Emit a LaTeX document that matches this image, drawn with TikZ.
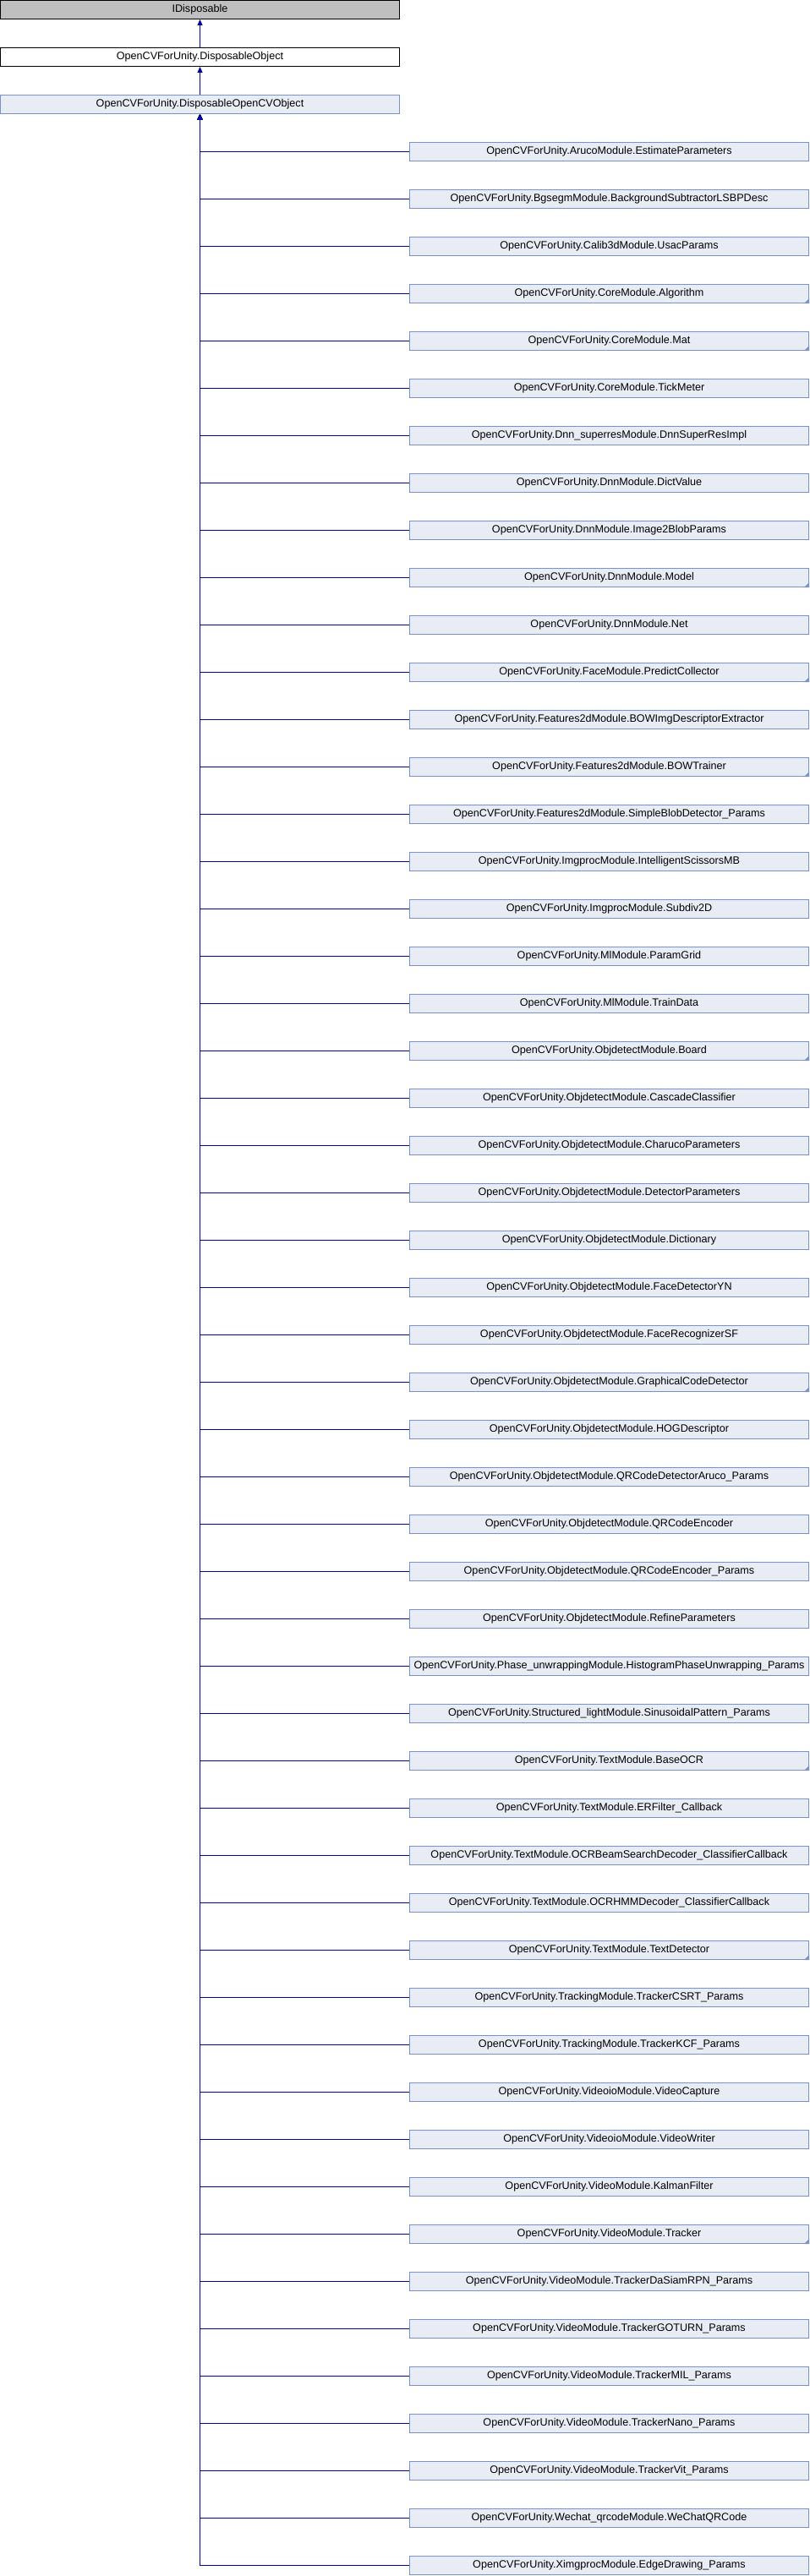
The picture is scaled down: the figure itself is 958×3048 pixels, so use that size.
\documentclass[tikz,border=0pt]{standalone}
\usepackage{fontspec}
\setmainfont{Liberation Sans}
\usepackage{tikz}
\usetikzlibrary{arrows.meta}

\definecolor{clsfill}{RGB}{232,236,244}
\definecolor{clsdraw}{RGB}{122,146,204}
\definecolor{extfill}{RGB}{191,191,191}
\definecolor{edgecol}{RGB}{0,0,150}

\tikzset{
	cls/.style={draw=clsdraw, fill=clsfill, line width=1pt, inner sep=0pt,
		minimum width=472pt, minimum height=22pt,
		font=\fontsize{12.6}{14}\selectfont},
	extcls/.style={cls, draw=black, fill=extfill},
	plaincls/.style={cls, draw=black, fill=white},
	edge/.style={draw=edgecol, line width=1pt, -{Triangle[width=6pt,length=7pt]}},
	more/.style={fill=clsdraw}
}

\begin{document}
\begin{tikzpicture}[x=1pt, y=-1pt]
	\useasboundingbox (0,0) rectangle (958,3048);
	% base classes
	\node[extcls] (idisp) at (236.5,11.5) {IDisposable};
	\node[plaincls] (dobj) at (236.5,67.5) {OpenCVForUnity.DisposableObject};
	\node[cls] (docv) at (236.5,123.5) {OpenCVForUnity.DisposableOpenCVObject};
	\draw[edge] (dobj.north) -- (idisp.south);
	\draw[edge] (docv.north) -- (dobj.south);
	% derived classes
	\node[cls] (estparams) at (720.5,179.5) {OpenCVForUnity.ArucoModule.EstimateParameters};
	\node[cls] (lsbpdesc) at (720.5,235.5) {OpenCVForUnity.BgsegmModule.BackgroundSubtractorLSBPDesc};
	\node[cls] (usac) at (720.5,291.5) {OpenCVForUnity.Calib3dModule.UsacParams};
	\node[cls] (algorithm) at (720.5,347.5) {OpenCVForUnity.CoreModule.Algorithm};
	\node[cls] (mat) at (720.5,403.5) {OpenCVForUnity.CoreModule.Mat};
	\node[cls] (tickmeter) at (720.5,459.5) {OpenCVForUnity.CoreModule.TickMeter};
	\node[cls] (superres) at (720.5,515.5) {OpenCVForUnity.Dnn\_superresModule.DnnSuperResImpl};
	\node[cls] (dictvalue) at (720.5,571.5) {OpenCVForUnity.DnnModule.DictValue};
	\node[cls] (blobparams) at (720.5,627.5) {OpenCVForUnity.DnnModule.Image2BlobParams};
	\node[cls] (model) at (720.5,683.5) {OpenCVForUnity.DnnModule.Model};
	\node[cls] (net) at (720.5,739.5) {OpenCVForUnity.DnnModule.Net};
	\node[cls] (predcoll) at (720.5,795.5) {OpenCVForUnity.FaceModule.PredictCollector};
	\node[cls] (bowextr) at (720.5,851.5) {OpenCVForUnity.Features2dModule.BOWImgDescriptorExtractor};
	\node[cls] (bowtrainer) at (720.5,907.5) {OpenCVForUnity.Features2dModule.BOWTrainer};
	\node[cls] (blobdet) at (720.5,963.5) {OpenCVForUnity.Features2dModule.SimpleBlobDetector\_Params};
	\node[cls] (scissors) at (720.5,1019.5) {OpenCVForUnity.ImgprocModule.IntelligentScissorsMB};
	\node[cls] (subdiv) at (720.5,1075.5) {OpenCVForUnity.ImgprocModule.Subdiv2D};
	\node[cls] (paramgrid) at (720.5,1131.5) {OpenCVForUnity.MlModule.ParamGrid};
	\node[cls] (traindata) at (720.5,1187.5) {OpenCVForUnity.MlModule.TrainData};
	\node[cls] (board) at (720.5,1243.5) {OpenCVForUnity.ObjdetectModule.Board};
	\node[cls] (cascade) at (720.5,1299.5) {OpenCVForUnity.ObjdetectModule.CascadeClassifier};
	\node[cls] (charuco) at (720.5,1355.5) {OpenCVForUnity.ObjdetectModule.CharucoParameters};
	\node[cls] (detparams) at (720.5,1411.5) {OpenCVForUnity.ObjdetectModule.DetectorParameters};
	\node[cls] (dictionary) at (720.5,1467.5) {OpenCVForUnity.ObjdetectModule.Dictionary};
	\node[cls] (facedet) at (720.5,1523.5) {OpenCVForUnity.ObjdetectModule.FaceDetectorYN};
	\node[cls] (facerec) at (720.5,1579.5) {OpenCVForUnity.ObjdetectModule.FaceRecognizerSF};
	\node[cls] (gcodedet) at (720.5,1635.5) {OpenCVForUnity.ObjdetectModule.GraphicalCodeDetector};
	\node[cls] (hog) at (720.5,1691.5) {OpenCVForUnity.ObjdetectModule.HOGDescriptor};
	\node[cls] (qraruco) at (720.5,1747.5) {OpenCVForUnity.ObjdetectModule.QRCodeDetectorAruco\_Params};
	\node[cls] (qrenc) at (720.5,1803.5) {OpenCVForUnity.ObjdetectModule.QRCodeEncoder};
	\node[cls] (qrencparams) at (720.5,1859.5) {OpenCVForUnity.ObjdetectModule.QRCodeEncoder\_Params};
	\node[cls] (refine) at (720.5,1915.5) {OpenCVForUnity.ObjdetectModule.RefineParameters};
	\node[cls] (phaseunwrap) at (720.5,1971.5) {OpenCVForUnity.Phase\_unwrappingModule.HistogramPhaseUnwrapping\_Params};
	\node[cls] (sinpattern) at (720.5,2027.5) {OpenCVForUnity.Structured\_lightModule.SinusoidalPattern\_Params};
	\node[cls] (baseocr) at (720.5,2083.5) {OpenCVForUnity.TextModule.BaseOCR};
	\node[cls] (erfilter) at (720.5,2139.5) {OpenCVForUnity.TextModule.ERFilter\_Callback};
	\node[cls] (beamsearch) at (720.5,2195.5) {OpenCVForUnity.TextModule.OCRBeamSearchDecoder\_ClassifierCallback};
	\node[cls] (ocrhmm) at (720.5,2251.5) {OpenCVForUnity.TextModule.OCRHMMDecoder\_ClassifierCallback};
	\node[cls] (textdet) at (720.5,2307.5) {OpenCVForUnity.TextModule.TextDetector};
	\node[cls] (csrt) at (720.5,2363.5) {OpenCVForUnity.TrackingModule.TrackerCSRT\_Params};
	\node[cls] (kcf) at (720.5,2419.5) {OpenCVForUnity.TrackingModule.TrackerKCF\_Params};
	\node[cls] (videocap) at (720.5,2475.5) {OpenCVForUnity.VideoioModule.VideoCapture};
	\node[cls] (videowriter) at (720.5,2531.5) {OpenCVForUnity.VideoioModule.VideoWriter};
	\node[cls] (kalman) at (720.5,2587.5) {OpenCVForUnity.VideoModule.KalmanFilter};
	\node[cls] (tracker) at (720.5,2643.5) {OpenCVForUnity.VideoModule.Tracker};
	\node[cls] (dasiamrpn) at (720.5,2699.5) {OpenCVForUnity.VideoModule.TrackerDaSiamRPN\_Params};
	\node[cls] (goturn) at (720.5,2755.5) {OpenCVForUnity.VideoModule.TrackerGOTURN\_Params};
	\node[cls] (mil) at (720.5,2811.5) {OpenCVForUnity.VideoModule.TrackerMIL\_Params};
	\node[cls] (nano) at (720.5,2867.5) {OpenCVForUnity.VideoModule.TrackerNano\_Params};
	\node[cls] (vit) at (720.5,2923.5) {OpenCVForUnity.VideoModule.TrackerVit\_Params};
	\node[cls] (wechat) at (720.5,2979.5) {OpenCVForUnity.Wechat\_qrcodeModule.WeChatQRCode};
	\node[cls] (edgedraw) at (720.5,3035.5) {OpenCVForUnity.XimgprocModule.EdgeDrawing\_Params};
	% corner marks for classes with hidden subclasses
	\fill[more] (algorithm.south east) -- ++(-6,0) -- ++(6,-6) -- cycle;
	\fill[more] (mat.south east) -- ++(-6,0) -- ++(6,-6) -- cycle;
	\fill[more] (model.south east) -- ++(-6,0) -- ++(6,-6) -- cycle;
	\fill[more] (predcoll.south east) -- ++(-6,0) -- ++(6,-6) -- cycle;
	\fill[more] (bowtrainer.south east) -- ++(-6,0) -- ++(6,-6) -- cycle;
	\fill[more] (board.south east) -- ++(-6,0) -- ++(6,-6) -- cycle;
	\fill[more] (gcodedet.south east) -- ++(-6,0) -- ++(6,-6) -- cycle;
	\fill[more] (baseocr.south east) -- ++(-6,0) -- ++(6,-6) -- cycle;
	\fill[more] (textdet.south east) -- ++(-6,0) -- ++(6,-6) -- cycle;
	\fill[more] (tracker.south east) -- ++(-6,0) -- ++(6,-6) -- cycle;
	% inheritance edges
	\draw[edge] (estparams.west) -| (docv.south);
	\draw[edge] (lsbpdesc.west) -| (docv.south);
	\draw[edge] (usac.west) -| (docv.south);
	\draw[edge] (algorithm.west) -| (docv.south);
	\draw[edge] (mat.west) -| (docv.south);
	\draw[edge] (tickmeter.west) -| (docv.south);
	\draw[edge] (superres.west) -| (docv.south);
	\draw[edge] (dictvalue.west) -| (docv.south);
	\draw[edge] (blobparams.west) -| (docv.south);
	\draw[edge] (model.west) -| (docv.south);
	\draw[edge] (net.west) -| (docv.south);
	\draw[edge] (predcoll.west) -| (docv.south);
	\draw[edge] (bowextr.west) -| (docv.south);
	\draw[edge] (bowtrainer.west) -| (docv.south);
	\draw[edge] (blobdet.west) -| (docv.south);
	\draw[edge] (scissors.west) -| (docv.south);
	\draw[edge] (subdiv.west) -| (docv.south);
	\draw[edge] (paramgrid.west) -| (docv.south);
	\draw[edge] (traindata.west) -| (docv.south);
	\draw[edge] (board.west) -| (docv.south);
	\draw[edge] (cascade.west) -| (docv.south);
	\draw[edge] (charuco.west) -| (docv.south);
	\draw[edge] (detparams.west) -| (docv.south);
	\draw[edge] (dictionary.west) -| (docv.south);
	\draw[edge] (facedet.west) -| (docv.south);
	\draw[edge] (facerec.west) -| (docv.south);
	\draw[edge] (gcodedet.west) -| (docv.south);
	\draw[edge] (hog.west) -| (docv.south);
	\draw[edge] (qraruco.west) -| (docv.south);
	\draw[edge] (qrenc.west) -| (docv.south);
	\draw[edge] (qrencparams.west) -| (docv.south);
	\draw[edge] (refine.west) -| (docv.south);
	\draw[edge] (phaseunwrap.west) -| (docv.south);
	\draw[edge] (sinpattern.west) -| (docv.south);
	\draw[edge] (baseocr.west) -| (docv.south);
	\draw[edge] (erfilter.west) -| (docv.south);
	\draw[edge] (beamsearch.west) -| (docv.south);
	\draw[edge] (ocrhmm.west) -| (docv.south);
	\draw[edge] (textdet.west) -| (docv.south);
	\draw[edge] (csrt.west) -| (docv.south);
	\draw[edge] (kcf.west) -| (docv.south);
	\draw[edge] (videocap.west) -| (docv.south);
	\draw[edge] (videowriter.west) -| (docv.south);
	\draw[edge] (kalman.west) -| (docv.south);
	\draw[edge] (tracker.west) -| (docv.south);
	\draw[edge] (dasiamrpn.west) -| (docv.south);
	\draw[edge] (goturn.west) -| (docv.south);
	\draw[edge] (mil.west) -| (docv.south);
	\draw[edge] (nano.west) -| (docv.south);
	\draw[edge] (vit.west) -| (docv.south);
	\draw[edge] (wechat.west) -| (docv.south);
	\draw[edge] (edgedraw.west) -| (docv.south);
\end{tikzpicture}
\end{document}
